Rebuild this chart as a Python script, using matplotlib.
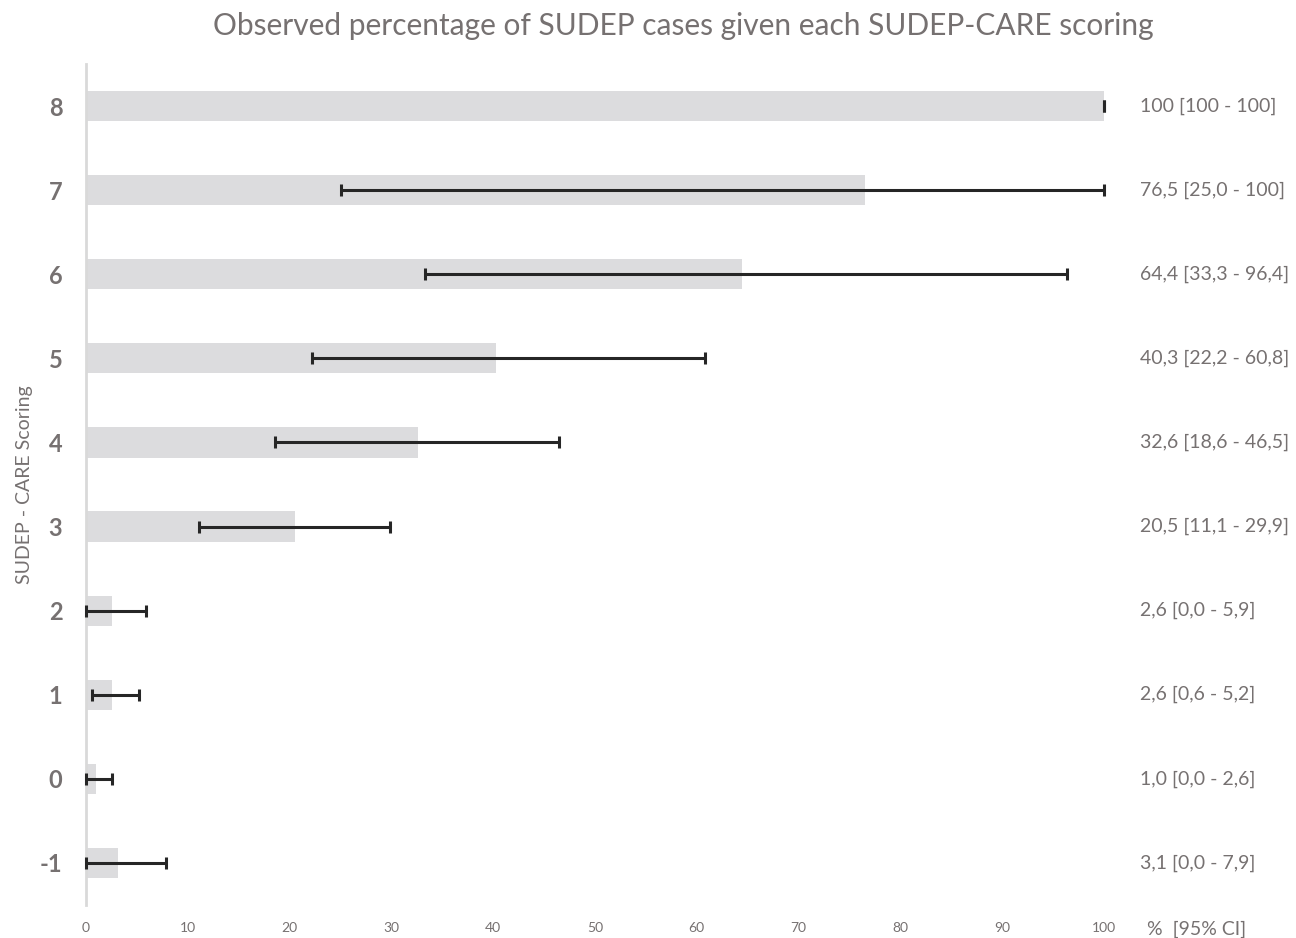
import matplotlib.pyplot as plt

plt.rcParams["font.family"] = ["Lato", "DejaVu Sans"]

# SUDEP-CARE score, observed % and 95% CI bounds
scores = [-1, 0, 1, 2, 3, 4, 5, 6, 7, 8]
pct = [3.1, 1.0, 2.6, 2.6, 20.5, 32.6, 40.3, 64.4, 76.5, 100]
ci_low = [0.0, 0.0, 0.6, 0.0, 11.1, 18.6, 22.2, 33.3, 25.0, 100]
ci_high = [7.9, 2.6, 5.2, 5.9, 29.9, 46.5, 60.8, 96.4, 100, 100]
x_ticks = [0, 10, 20, 30, 40, 50, 60, 70, 80, 90, 100]

grey = "#767171"

fig = plt.figure(figsize=(12.96, 9.38), dpi=100)
ax = fig.add_axes([86 / 1296, 33 / 938, 1018 / 1296, 841 / 938])

ax.barh(scores, pct, height=0.36, color="#dcdcde", zorder=1)
err = [[p - lo for p, lo in zip(pct, ci_low)], [hi - p for p, hi in zip(pct, ci_high)]]
ax.errorbar(pct, scores, xerr=err, fmt="none", ecolor="#262626", elinewidth=2.2,
            capsize=4, capthick=2.2, zorder=3, clip_on=False)


def fmt(v):
    return "100" if v == 100 else f"{v:.1f}".replace(".", ",")


for s, p, lo, hi in zip(scores, pct, ci_low, ci_high):
    ax.text(103.5, s, f"{fmt(p)} [{fmt(lo)} - {fmt(hi)}]", va="center", ha="left",
            fontsize=14, color=grey)

ax.set_xlim(0, 100)
ax.set_ylim(-1.5, 8.5)
ax.set_yticks(scores)
ax.set_yticklabels([str(s) for s in scores], fontsize=17, fontweight="bold", color=grey)
ax.set_xticks(x_ticks)
ax.set_xticklabels([str(t) for t in x_ticks], fontsize=10, color=grey)
ax.tick_params(axis="both", length=0)
ax.tick_params(axis="y", pad=17)
ax.tick_params(axis="x", pad=12)

for side in ["top", "right", "bottom"]:
    ax.spines[side].set_visible(False)
ax.spines["left"].set_color("#d9d9d9")
ax.spines["left"].set_linewidth(2)

ax.set_ylabel("SUDEP - CARE Scoring", fontsize=14, color=grey)
ax.yaxis.set_label_coords(-0.052, 0.5)

fig.text(1147 / 1296, 1 - 929 / 938, "%  [95% CI]", fontsize=14, color=grey,
         ha="left", va="center")
fig.suptitle("Observed percentage of SUDEP cases given each SUDEP-CARE scoring",
             x=683 / 1296, y=1 - 26 / 938, va="center", fontsize=21.5, color=grey)

fig.savefig("out.png", dpi=100)
